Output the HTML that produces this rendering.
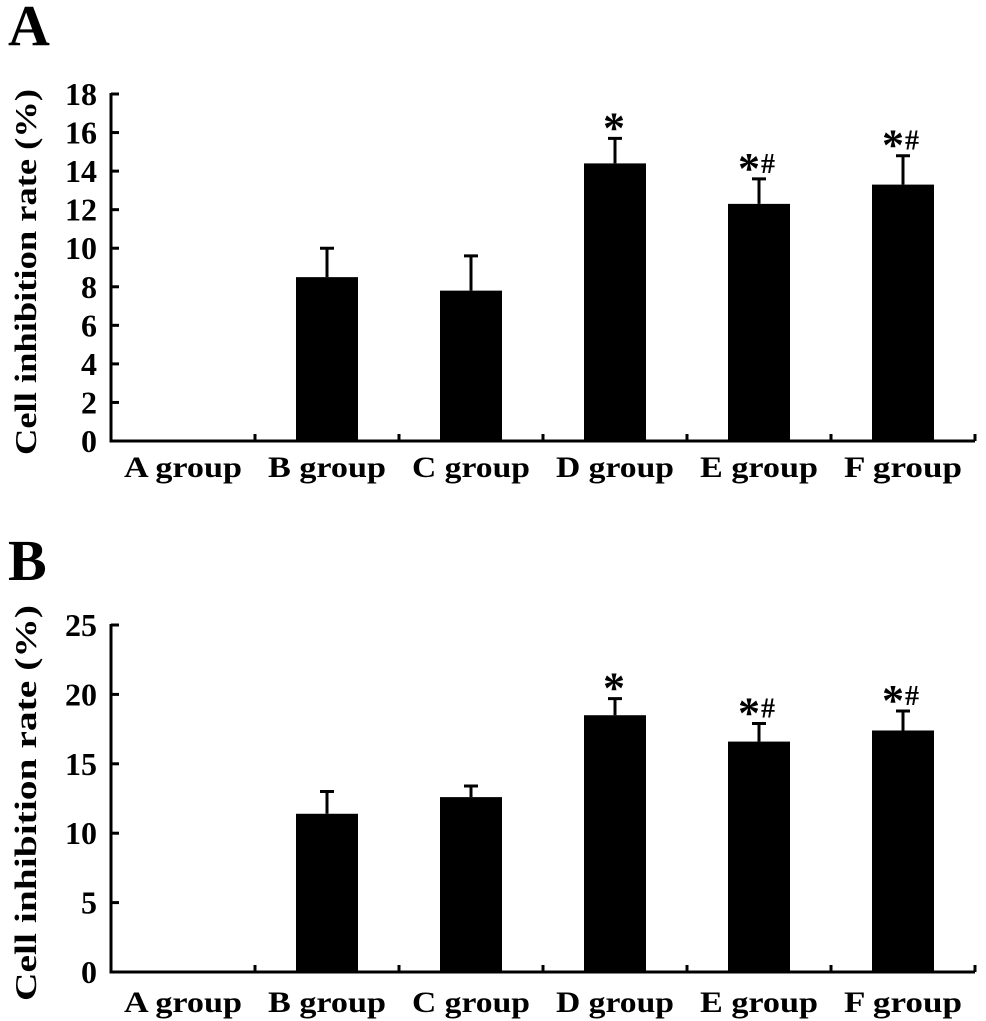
<!DOCTYPE html>
<html><head><meta charset="utf-8"><style>
html,body{margin:0;padding:0;background:#fff;}
svg{display:block;}
svg text{font-family:"Liberation Serif","Times New Roman",Times,serif;font-weight:700;}
</style></head><body>
<svg id="chart" width="986" height="1021" viewBox="0 0 986 1021" xmlns="http://www.w3.org/2000/svg">
<text x="8" y="45" font-size="58">A</text>
<text x="8" y="580" font-size="58">B</text>
<g id="pa"></g>
<g id="pb"></g>
</svg>
<script>
const categories = ["A group","B group","C group","D group","E group","F group"];
const valuesA = [0, 8.5, 7.8, 14.4, 12.3, 13.3];
const errorsA = [0, 1.5, 1.8, 1.3, 1.3, 1.5];
const marksA = ["", "", "", "*", "*#", "*#"];
const ticksA = [0,2,4,6,8,10,12,14,16,18];
const valuesB = [0, 11.4, 12.6, 18.5, 16.6, 17.4];
const errorsB = [0, 1.6, 0.8, 1.2, 1.3, 1.4];
const marksB = ["", "", "", "*", "*#", "*#"];
const ticksB = [0,5,10,15,20,25];

const NS = "http://www.w3.org/2000/svg";
function mk(parent, tag, attrs, text){
  const e = document.createElementNS(NS, tag);
  for (const k in attrs) e.setAttribute(k, attrs[k]);
  if (text !== undefined) e.textContent = text;
  parent.appendChild(e); return e;
}
function panel(g, vals, errs, marks, ticks, y0, yTop, ymax, catY, titleCy, titleLen, key){
  const x0 = 111, x1 = 975, step = (x1 - x0) / categories.length;
  const ys = v => y0 - v / ymax * (y0 - yTop);
  const xc = i => x0 + step * (i + 0.5);
  let e = mk(g, "line", {x1:x0, y1:yTop-1, x2:x0, y2:y0+1.5, stroke:"#000", "stroke-width":3});
  
  
  e = mk(g, "line", {x1:x0-1.5, y1:y0, x2:x1, y2:y0, stroke:"#000", "stroke-width":3});
  
  
  ticks.forEach(t => {
    const y = ys(t);
    const tl = mk(g, "line", {x1:x0, y1:y, x2:x0+8, y2:y, stroke:"#000", "stroke-width":3});
    
    
    const s = String(t);
    const lab = mk(g, "text", {x:97, y:y+11, "font-size":32, "text-anchor":"end", textLength:16*s.length, lengthAdjust:"spacingAndGlyphs"}, s);
    
    
  });
  for (let i = 1; i <= categories.length; i++){
    const x = x0 + step * i;
    const ct = mk(g, "line", {x1:x, y1:y0, x2:x, y2:y0-7, stroke:"#000", "stroke-width":3});
    
    
  }
  categories.forEach((c, i) => {
    const lab = mk(g, "text", {x:xc(i), y:catY, "font-size":30, "text-anchor":"middle", textLength:118, lengthAdjust:"spacingAndGlyphs"}, c);
    
    
    const v = vals[i];
    if (v > 0){
      const top = ys(v), et = ys(v + errs[i]);
      const bar = mk(g, "rect", {x:xc(i)-31, y:top, width:62, height:y0-top, fill:"#000"});
      
      
      const eb = mk(g, "path", {d:`M${xc(i)} ${top} V${et} M${xc(i)-7} ${et} H${xc(i)+7}`, stroke:"#000", "stroke-width":3, fill:"none"});
      
      
    }
    if (marks[i]){
      const et = ys(v + errs[i]);
      const hasHash = marks[i].includes("#");
      const sx = hasHash ? xc(i) + 1 : xc(i) + 10;
      const st = mk(g, "text", {x:sx, y:et+4, "font-size":44, "text-anchor":"end"}, "*");
      
      
      if (hasHash){
        const h = mk(g, "text", {x:sx+1, y:et-6, "font-size":28}, "#");
        
        
      }
    }
  });
  const t = mk(g, "text", {x:0, y:0, "font-size":31, "text-anchor":"middle", transform:`translate(36 ${titleCy}) rotate(-90)`, textLength:titleLen, lengthAdjust:"spacingAndGlyphs"}, "Cell inhibition rate (%)");
  
  
}
panel(document.getElementById("pa"), valuesA, errorsA, marksA, ticksA, 441, 94, 18, 477, 272, 366, "panel-a");
panel(document.getElementById("pb"), valuesB, errorsB, marksB, ticksB, 972, 625, 25, 1012, 803, 396, "panel-b");
</script>
</body></html>
